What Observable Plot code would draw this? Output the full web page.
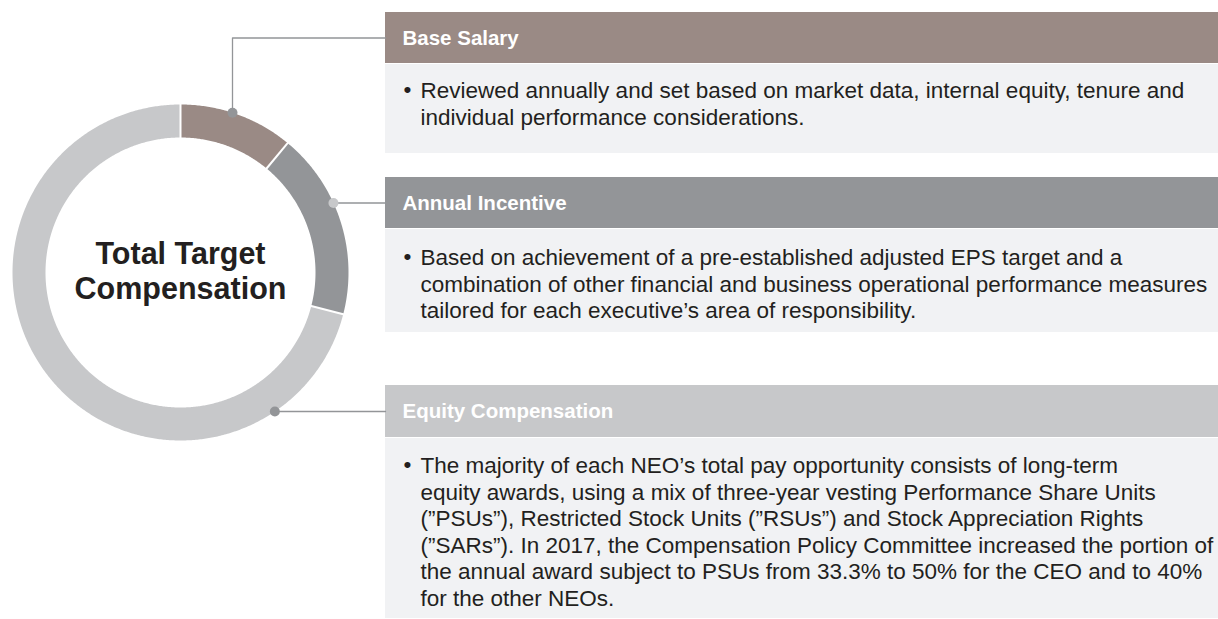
<!DOCTYPE html>
<html>
<head>
<meta charset="utf-8">
<script src="https://cdn.jsdelivr.net/npm/d3@7"></script>
<script src="https://cdn.jsdelivr.net/npm/@observablehq/plot@0.6"></script>
<style>
  html, body { margin: 0; padding: 0; background: #ffffff; }
  #chart { width: 1218px; height: 619px; }
</style>
</head>
<body>
<div id="chart"></div>
<script>
// ---- data ----
const components = ["Base Salary", "Annual Incentive", "Equity Compensation"];
const shares = [11, 18, 71];
const centerTitle = ["Total Target", "Compensation"];
const baseSalaryLines = [
  "Reviewed annually and set based on market data, internal equity, tenure and",
  "individual performance considerations."
];
const annualIncentiveLines = [
  "Based on achievement of a pre-established adjusted EPS target and a",
  "combination of other financial and business operational performance measures",
  "tailored for each executive’s area of responsibility."
];
const equityLines = [
  "The majority of each NEO’s total pay opportunity consists of long-term",
  "equity awards, using a mix of three-year vesting Performance Share Units",
  "(”PSUs”), Restricted Stock Units (”RSUs”) and Stock Appreciation Rights",
  "(”SARs”). In 2017, the Compensation Policy Committee increased the portion of",
  "the annual award subject to PSUs from 33.3% to 50% for the CEO and to 40%",
  "for the other NEOs."
];
const descriptions = [baseSalaryLines, annualIncentiveLines, equityLines];

// ---- styles / layout ----
const palette = ["#9a8a85", "#939598", "#c7c8ca"];
const dotColors = ["#939598", "#c7c8ca", "#939598"];
const W = 1218, H = 619;
const cx = 180, cy = 272, rIn = 135, rOut = 168, rMid = (rIn + rOut) / 2;
const boxX1 = 385, boxX2 = 1218;
const headerY = [[12, 63], [177, 228], [385, 437]];
const bodyY = [[64, 153], [229, 332], [438, 618]];
const firstLineY = [89.5, 256.5, 464.5];
const bodyFont = 22.5, lineStep = 26.5;
const baseLegX = 232;
const FONT = "'Liberation Sans', Arial, Helvetica, sans-serif";

// ---- derived geometry ----
const total = d3.sum(shares);
let acc = 0;
const arcs = components.map((c, i) => {
  const a0 = acc / total * 360;
  acc += shares[i];
  const a1 = acc / total * 360;
  return {c, a0, a1};
});
const rad = a => a * Math.PI / 180;
const ringPts = arcs.flatMap(({c, a0, a1}) => {
  const n = Math.ceil((a1 - a0) / 0.5);
  return d3.range(n + 1).map(k => {
    const a = rad(a0 + (a1 - a0) * k / n);
    return {c, x: cx + rMid * Math.sin(a), y: cy - rMid * Math.cos(a)};
  });
});
const seps = arcs.map(({a0}) => ({
  x1: cx + (rIn - 1) * Math.sin(rad(a0)), y1: cy - (rIn - 1) * Math.cos(rad(a0)),
  x2: cx + (rOut + 1) * Math.sin(rad(a0)), y2: cy - (rOut + 1) * Math.cos(rad(a0))
}));

const boxes = components.map((c, i) => {
  const [hy1, hy2] = headerY[i];
  const [by1, by2] = bodyY[i];
  const lines = descriptions[i];
  const first = firstLineY[i];
  const mid = first + (lines.length - 1) * lineStep / 2;
  return {c, hy1, hy2, by1, by2, lines, first, mid, hmid: (hy1 + hy2) / 2};
});

// connector paths
const connectors = boxes.map((b, i) => {
  let pts, dot;
  if (i === 0) {
    const dy = Math.sqrt(rOut * rOut - (baseLegX - cx) ** 2);
    dot = {x: baseLegX, y: cy - dy};
    pts = [dot, {x: baseLegX, y: b.hmid}, {x: boxX1, y: b.hmid}];
  } else {
    const dx = Math.sqrt(rOut * rOut - (b.hmid - cy) ** 2);
    dot = {x: cx + dx, y: b.hmid};
    pts = [dot, {x: boxX1, y: b.hmid}];
  }
  return {pts, dot, color: dotColors[i]};
});

const marks = [
  // header bars and bodies
  Plot.rect(boxes, {x1: () => boxX1, x2: () => boxX2, y1: "by1", y2: "by2", fill: "#f1f2f4"}),
  Plot.rect(boxes, {x1: () => boxX1, x2: () => boxX2, y1: "hy1", y2: "hy2", fill: "c"}),
  // connectors
  ...connectors.map(k => Plot.line(k.pts, {x: "x", y: "y", stroke: "#939598", strokeWidth: 1.3, curve: "linear"})),
  // ring
  Plot.line(ringPts, {x: "x", y: "y", z: "c", stroke: "c", strokeWidth: rOut - rIn, strokeLinecap: "butt", strokeLinejoin: "round", curve: "linear"}),
  Plot.link(seps, {x1: "x1", y1: "y1", x2: "x2", y2: "y2", stroke: "white", strokeWidth: 2}),
  // dots
  ...connectors.map(k => Plot.dot([k.dot], {x: "x", y: "y", r: 5, fill: k.color, stroke: null})),
  // header labels
  Plot.text(boxes, {x: () => 402, y: "hmid", text: "c", fill: "white", fontSize: 20.5, fontWeight: "bold", textAnchor: "start", fontFamily: FONT}),
  // bullets
  Plot.text(boxes, {x: () => 403, y: "first", text: () => "•", fill: "#231f20", fontSize: bodyFont, textAnchor: "start", fontFamily: FONT}),
  // body text
  Plot.text(boxes, {x: () => 420, y: "mid", text: d => d.lines.join("\n"), lineHeight: lineStep / bodyFont, fill: "#231f20", fontSize: bodyFont, textAnchor: "start", fontFamily: FONT}),
  // center title
  Plot.text([centerTitle.join("\n")], {x: () => cx, y: () => 269.5, text: d => d, fontSize: 30.5, fontWeight: "bold", lineHeight: 35 / 30.5, fill: "#231f20", textAnchor: "middle", fontFamily: FONT})
];

const chart = Plot.plot({
  width: W,
  height: H,
  margin: 0,
  x: {domain: [0, W], range: [0, W], axis: null},
  y: {domain: [0, H], range: [0, H], axis: null},
  color: {domain: components, range: palette},
  style: {background: "#ffffff", fontFamily: FONT, overflow: "visible"},
  marks
});
document.getElementById("chart").append(chart);
</script>
</body>
</html>
